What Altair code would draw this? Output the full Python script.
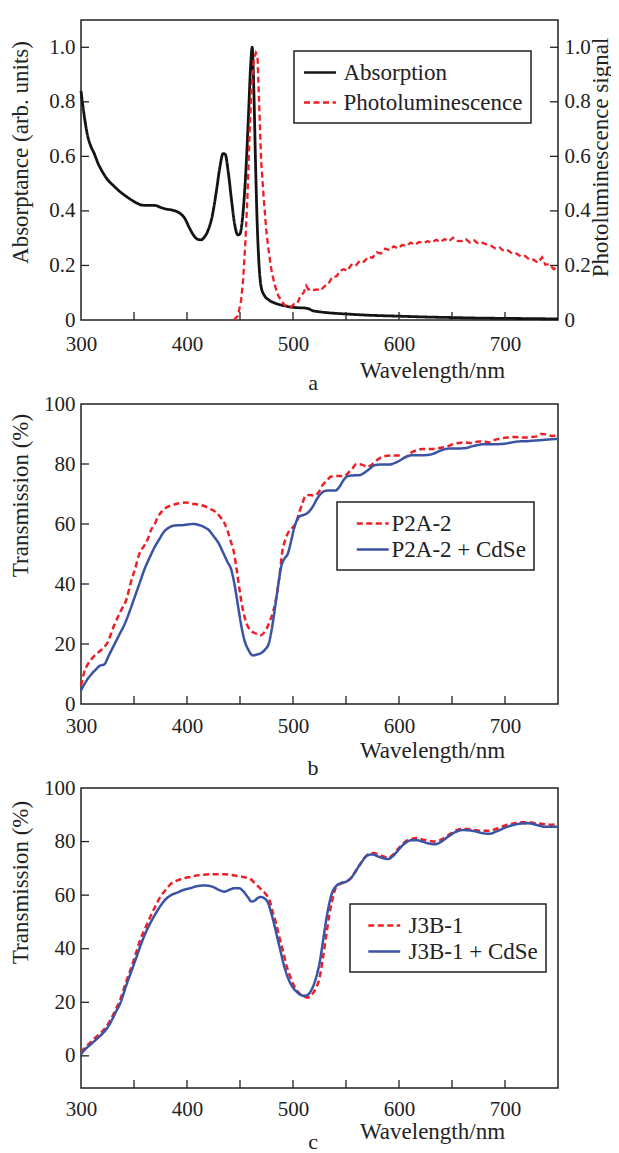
import altair as alt
import pandas as pd

FONT = "Liberation Serif"
TXT = "#222222"
RED = "#ec1f27"
BLUE = "#3a53a4"
BLACK = "#141414"

# ---------------- panel a ----------------
ABS_WL = [300, 303, 306, 309, 312.5, 316, 320, 325, 330, 337, 345, 352, 358, 365, 370, 375, 380, 387, 393,
          398, 402, 406, 410, 413, 416, 420, 424, 428, 431, 434, 436, 439, 442, 445, 448, 450, 452, 454,
          456, 458, 460, 461.5, 463, 464.5, 466, 468, 470, 473, 477, 483, 490, 497, 505, 511, 515, 518,
          525, 535, 550, 575, 600, 625, 650, 675, 700, 725, 750]
ABS_VAL = [0.84, 0.75, 0.68, 0.64, 0.61, 0.575, 0.545, 0.515, 0.495, 0.47, 0.447, 0.43, 0.421, 0.42, 0.42,
           0.413, 0.407, 0.402, 0.392, 0.372, 0.34, 0.312, 0.296, 0.294, 0.302, 0.33, 0.385, 0.48, 0.56,
           0.61, 0.608, 0.54, 0.44, 0.35, 0.312, 0.316, 0.36, 0.45, 0.58, 0.75, 0.93, 1.0, 0.85, 0.6, 0.38,
           0.2, 0.12, 0.09, 0.074, 0.062, 0.054, 0.048, 0.045, 0.044, 0.041, 0.035, 0.03, 0.026, 0.022,
           0.017, 0.014, 0.011, 0.009, 0.007, 0.006, 0.005, 0.004]
PL_WL = [444, 448, 451, 453, 455, 457, 459, 461, 463, 465, 466.5, 468, 470, 472.5, 475, 477.5, 480, 483,
         486, 489, 492, 495, 498, 501, 504, 507, 510, 512.5, 514.5, 517, 520, 523, 526, 530, 533, 537, 541,
         545, 548, 551, 555, 559, 563, 567, 571, 575, 579, 583, 587, 591, 595, 599, 603, 607, 611, 615, 619,
         623, 627, 631, 635, 639, 643, 647, 651, 655, 659, 663, 667, 671, 675, 679, 683, 687, 691, 695, 699,
         703, 707, 711, 715, 719, 723, 727, 731, 735, 738, 742, 746, 750]
PL_VAL = [0.0, 0.015, 0.07, 0.15, 0.28, 0.45, 0.68, 0.86, 0.95, 0.98, 0.97, 0.8, 0.58, 0.44, 0.32, 0.24,
          0.175, 0.125, 0.09, 0.07, 0.055, 0.05, 0.047, 0.058, 0.06, 0.088, 0.1, 0.125, 0.112, 0.116, 0.11,
          0.112, 0.108, 0.125, 0.13, 0.158, 0.16, 0.182, 0.186, 0.18, 0.202, 0.198, 0.218, 0.214, 0.232, 0.228,
          0.248, 0.244, 0.262, 0.256, 0.27, 0.262, 0.275, 0.272, 0.284, 0.276, 0.286, 0.282, 0.289, 0.284,
          0.294, 0.286, 0.297, 0.288, 0.302, 0.29, 0.289, 0.297, 0.284, 0.292, 0.279, 0.283, 0.276, 0.272, 0.262,
          0.266, 0.252, 0.255, 0.243, 0.243, 0.233, 0.235, 0.222, 0.221, 0.21, 0.23, 0.203, 0.204, 0.186, 0.197]
A_SERIES = ["Absorption", "Photoluminescence"]

# ---------------- panel b ----------------
B_RED_WL = [300, 303, 306, 310, 314, 319, 325, 331, 337.5, 343, 347, 351, 355, 360, 363, 366, 369, 372, 377,
            382, 388, 394, 399, 404, 410, 416, 422, 427, 431, 435, 438, 441, 444, 447, 450, 453, 456, 460,
            465, 469, 472, 475, 478, 481, 484, 487, 490, 493, 496, 500, 503, 506, 509, 512, 516, 520, 524,
            528, 532, 536, 542, 548, 552, 556, 560, 565, 570, 575, 580, 585, 592, 600, 605, 610, 616, 622,
            630, 638, 645, 650, 656, 662, 668, 675, 680, 685, 690, 696, 702, 710, 718, 725, 730, 734, 740,
            745, 750]
B_RED_VAL = [6.0, 10.5, 13, 15, 16.5, 18, 20.5, 26, 31, 35, 40.5, 45, 50, 53, 55, 58, 59.5, 62, 64.5, 65.8,
             66.5, 67, 67.2, 66.8, 66.5, 66, 65, 64, 62.5, 60.5, 58, 54.5, 51, 44.5, 37, 31, 27, 24.5, 23.5,
             22.8, 23.5, 25, 27.5, 30.5, 35, 42, 51, 55, 57.5, 59, 60.5, 64, 67, 69.5, 69.7, 69.5, 70.5, 73,
             74.5, 75.8, 76, 76, 77, 78.5, 80, 79.8, 79, 80, 81.5, 82.5, 82.8, 82.8, 82, 83.5, 84.5, 85, 85,
             85.3, 85.8, 86.5, 87, 87.2, 87, 87.5, 87.5, 87.2, 88, 88.5, 88.8, 89, 88.8, 89, 89.2, 90, 89.8,
             89.3, 90]
B_BLUE_WL = [300, 303, 306, 310, 314, 318, 322, 326, 331, 336, 341, 346, 350, 355, 360, 365, 369, 374, 378,
             383, 388, 395, 400, 406, 411, 416, 421, 425, 430, 434, 438, 442, 445, 448, 451, 454, 458, 462,
             466, 470, 474, 477, 480, 483, 486, 489, 492, 495, 498, 501, 504, 507, 510, 513, 516, 519, 522,
             526, 530, 535, 540, 544, 548, 552, 557, 563, 567, 572, 577, 582, 590, 595, 600, 606, 612, 620,
             627, 633, 638, 644, 650, 657, 663, 668, 674, 680, 690, 698, 705, 712, 720, 728, 735, 742, 750]
B_BLUE_VAL = [4.5, 6.5, 8.2, 10, 11.5, 12.8, 13.2, 16, 19.5, 23, 26.5, 31, 35, 40, 45, 49, 52, 55, 57.3,
              58.8, 59.5, 59.6, 59.8, 60, 59.7, 59, 57.8, 56, 53.5, 50.5, 47.5, 44.5, 39.5, 33, 26.5, 21.5,
              18, 16.2, 16.5, 17, 18.3, 20, 25, 32, 39.5, 46, 48.5, 50, 54, 58.5, 61.5, 62.7, 63, 63.5, 64.5,
              66, 68, 70, 71, 71.2, 71.2, 72.5, 74.8, 76, 76.2, 76.3, 77, 78.3, 79.6, 79.8, 79.8, 80.2, 81,
              82.3, 82.9, 82.9, 83, 83.5, 84.3, 85, 85.2, 85.2, 85.3, 85.8, 86.3, 86.6, 86.6, 86.7, 87.1,
              87.5, 87.6, 87.8, 88, 88.2, 88.4]
B_SERIES = ["P2A-2", "P2A-2 + CdSe"]

# ---------------- panel c ----------------
C_RED_WL = [300, 304, 309, 314, 319, 324, 328, 333, 337.5, 342, 347, 352, 356, 361, 366, 371, 375, 380, 385,
            391, 397, 403, 409, 415, 425, 435, 442, 450, 456, 460, 464, 469, 474, 478, 481, 484, 487, 491,
            494, 497, 500, 503, 507, 510.5, 513, 516, 519, 522, 525, 528, 531, 534, 537, 540.6, 545, 550,
            555, 560, 565, 570, 575, 580, 585, 590, 594, 598, 602, 607, 612, 617, 622, 628, 634, 640, 647,
            653, 660, 666, 672, 678, 685, 692, 700, 708, 715, 722, 730, 738, 744, 750]
C_RED_VAL = [1.2, 3.2, 5, 7, 8.7, 11, 13.5, 17.5, 21.5, 27, 32.5, 38.5, 43.5, 48, 52.5, 56.5, 59.5, 62,
             64.3, 65.5, 66.3, 66.8, 67.3, 67.6, 67.8, 67.8, 67.5, 67, 66.5, 66, 64.5, 62.5, 60.5, 58, 53.5,
             49.5, 44.5, 38.5, 33.5, 30, 27, 24.7, 23, 22.2, 21.8, 22, 23.5, 25.5, 29, 36, 44, 52, 58, 63,
             64.3, 65, 66.5, 69.5, 72.5, 75, 75.7, 75.3, 74.5, 74, 75, 76.8, 78.5, 80.3, 81, 81.3, 80.8, 80.3,
             80, 80.8, 82.5, 84, 84.8, 84.6, 84.3, 84, 84, 84.8, 86, 86.8, 87.2, 87.2, 86.8, 86.5, 86.3, 87.2]
C_BLUE_WL = [300, 304, 309, 314, 319, 324, 328, 333, 337.5, 342, 347, 352, 356, 361, 366, 371, 375, 380,
             385, 391, 397, 403, 409, 415, 420, 425, 430, 435, 440, 445, 449, 453, 457, 461, 464, 467, 470,
             473, 476, 479, 482, 485, 488, 491, 494, 497, 500, 504, 508, 511, 514, 517, 520, 523, 525, 528,
             531, 534, 537, 541, 545, 550, 555, 560, 565, 570, 575, 580, 585, 590, 594, 598, 602, 607, 612,
             617, 622, 628, 634, 640, 647, 653, 660, 666, 672, 678, 685, 692, 700, 708, 715, 722, 730, 738,
             744, 750]
C_BLUE_VAL = [0.6, 2.5, 4.2, 6, 7.8, 10, 12.5, 16.5, 20, 25.5, 31, 36.5, 41, 46, 50, 53.5, 56, 58.5, 60, 61,
              62, 62.6, 63.3, 63.6, 63.5, 63, 62, 61.3, 62, 62.6, 62.6, 61.5, 59.5, 57.6, 58, 59, 59.3, 58.8,
              57.5, 54, 49.5, 44.5, 39.5, 34.5, 30.5, 27.5, 25.5, 23.7, 22.6, 22.4, 22.8, 24.3, 27, 31, 34.5,
              42, 50, 56.5, 61, 63.5, 64.5, 65, 66.5, 69.5, 72.5, 74.8, 75.2, 74.5, 73.8, 73.5, 74.5, 76.2,
              78, 79.8, 80.5, 80.5, 80, 79.3, 79, 80, 82, 83.5, 84.3, 84.2, 83.8, 83.2, 82.9, 83.8, 85.2,
              86.2, 86.7, 86.8, 86.2, 85.5, 85.5, 85.6]
C_SERIES = ["J3B-1", "J3B-1 + CdSe"]

# ---------------- axes ticks ----------------
X_LABELS = [300, 400, 500, 600, 700]
X_TICKS = [350, 400, 450, 500, 550, 600, 650, 700]
A_Y_LABELS = [0, 0.2, 0.4, 0.6, 0.8, 1.0]
A_Y_TICKS = [0.2, 0.4, 0.6, 0.8, 1.0]
BC_Y_LABELS = [0, 20, 40, 60, 80, 100]
B_Y_TICKS = [20, 40, 60, 80]
C_Y_TICKS = [0, 20, 40, 60, 80]

W, H = 477, 300
TL = 8  # tick length (inward)
SYM = "M-1.33,0H1.33"  # long horizontal stroke for legend swatches

xs = alt.Scale(domain=[300, 750], nice=False, zero=False)


def make_x(label_pad, title_y):
    ax = alt.Axis(title="Wavelength/nm", values=X_LABELS, ticks=False, tickSize=0, domain=False, grid=False,
                  labelFlush=False, labelPadding=label_pad, labelBaseline="alphabetic", labelFontSize=21,
                  labelColor=TXT, labelFont=FONT, format="d", titleX=351, titleY=title_y, titleAlign="center",
                  titleBaseline="alphabetic", titleFontSize=23, titleFontWeight="normal", titleColor=TXT,
                  titleFont=FONT)
    return alt.X("wl:Q", scale=xs, axis=ax)


def yaxis(title, values, orient, tx, ty, expr):
    return alt.Axis(title=title, orient=orient, values=values, ticks=False, tickSize=0, domain=False,
                    grid=False, labelPadding=6, labelFontSize=21, labelColor=TXT, labelFont=FONT,
                    labelExpr=expr, titleAngle=270, titleX=tx, titleY=ty, titleAlign="center",
                    titleBaseline="alphabetic", titleFontSize=23, titleFontWeight="normal", titleColor=TXT,
                    titleFont=FONT)


def legend(lx, ly, soff, loff, rowpad):
    return alt.Legend(title=None, orient="none", legendX=lx, legendY=ly, padding=8, strokeColor=TXT,
                      fillColor="white", symbolType=SYM, symbolSize=576, symbolStrokeWidth=2.5,
                      symbolOffset=soff, labelOffset=loff, labelFontSize=23, labelFont=FONT,
                      labelColor=TXT, labelLimit=400, rowPadding=rowpad)


def ticks_layers(X, yscale, yax, yticks, right=False):
    rules = []
    rules.append(alt.Chart(pd.DataFrame({"wl": X_TICKS})).mark_rule(color=TXT, strokeWidth=1.3).encode(
        x=X, y=alt.value(H), y2=alt.value(H - TL)))
    rules.append(alt.Chart(pd.DataFrame({"val": yticks})).mark_rule(color=TXT, strokeWidth=1.3).encode(
        y=alt.Y("val:Q", scale=yscale, axis=yax), x=alt.value(0), x2=alt.value(TL)))
    if right:
        rules.append(alt.Chart(pd.DataFrame({"val": yticks})).mark_rule(color=TXT, strokeWidth=1.3).encode(
            y=alt.Y("val:Q", scale=yscale, axis=yax), x=alt.value(W - TL), x2=alt.value(W)))
    return rules


def caption(letter, cy):
    return alt.Chart(pd.DataFrame({"k": [0]})).mark_text(
        text=letter, font=FONT, fontSize=22, color=TXT, align="center", baseline="middle").encode(
        x=alt.value(232), y=alt.value(cy))


FMT_A = "datum.value == 0 ? '0' : format(datum.value, '.1f')"
FMT_BC = "format(datum.value, 'd')"

# ---- panel a ----
XA = make_x(30, 57)
ysa = alt.Scale(domain=[0, 1.1], nice=False, zero=False)
leg_a = legend(213, 31, 4.5, 10, 4)
col_a = alt.Color("series:N", scale=alt.Scale(domain=A_SERIES, range=[BLACK, RED]), legend=leg_a)
dash_a = alt.StrokeDash("series:N", scale=alt.Scale(domain=A_SERIES, range=[[1, 0], [6, 3.5]]), legend=leg_a)
abs_df = pd.DataFrame({"wl": ABS_WL, "val": ABS_VAL, "series": A_SERIES[0]})
pl_df = pd.DataFrame({"wl": PL_WL, "val": PL_VAL, "series": A_SERIES[1]})
abs_line = alt.Chart(abs_df).mark_line(strokeWidth=2.8, interpolate="monotone").encode(
    x=XA, y=alt.Y("val:Q", scale=ysa, axis=yaxis("Absorptance (arb. units)", A_Y_LABELS, "left", -54, 132, FMT_A)),
    color=col_a, strokeDash=dash_a)
pl_line = alt.Chart(pl_df).mark_line(strokeWidth=2.3).encode(
    x=XA, y=alt.Y("val:Q", scale=ysa, axis=yaxis("Photoluminescence signal", A_Y_LABELS, "right", 49, 137, FMT_A)),
    color=col_a, strokeDash=dash_a)
panel_a = alt.layer(abs_line, pl_line, *ticks_layers(XA, ysa, None, A_Y_TICKS, right=True),
                    caption("a", 363)).resolve_scale(y="independent").properties(width=W, height=H)


def trans_panel(red_wl, red_val, blue_wl, blue_val, series, ydom, yticks, lx, ly, soff, loff, rowpad, ty,
                letter, cy, lpad, tyx):
    X = make_x(lpad, tyx)
    df = pd.concat([
        pd.DataFrame({"wl": red_wl, "val": red_val, "series": series[0]}),
        pd.DataFrame({"wl": blue_wl, "val": blue_val, "series": series[1]}),
    ])
    ys = alt.Scale(domain=ydom, nice=False, zero=False)
    yax = yaxis("Transmission (%)", BC_Y_LABELS, "left", -54, ty, FMT_BC)
    leg = legend(lx, ly, soff, loff, rowpad)
    col = alt.Color("series:N", scale=alt.Scale(domain=series, range=[RED, BLUE]), legend=leg)
    dash = alt.StrokeDash("series:N", scale=alt.Scale(domain=series, range=[[6, 3.5], [1, 0]]), legend=leg)
    line = alt.Chart(df).mark_line(strokeWidth=2.5, interpolate="monotone").encode(
        x=X, y=alt.Y("val:Q", scale=ys, axis=yax), color=col, strokeDash=dash)
    return alt.layer(line, *ticks_layers(X, ys, yax, yticks), caption(letter, cy)).properties(width=W, height=H)


panel_b = trans_panel(B_RED_WL, B_RED_VAL, B_BLUE_WL, B_BLUE_VAL, B_SERIES, [0, 100], B_Y_TICKS,
                      256, 98, 14.25, 5.25, 0, 91, "b", 364, 28, 53)
panel_c = trans_panel(C_RED_WL, C_RED_VAL, C_BLUE_WL, C_BLUE_VAL, C_SERIES, [-12, 100], C_Y_TICKS,
                      269, 116, 12.75, 10.75, 0, 94, "c", 354, 27, 50)

chart = alt.vconcat(panel_a, panel_b, panel_c, spacing=84, bounds="flush").resolve_scale(
    color="independent", strokeDash="independent"
).resolve_legend(
    color="independent", strokeDash="independent"
).properties(
    padding={"left": 0, "top": 11, "right": -2, "bottom": 0}
).configure(font=FONT).configure_view(stroke=TXT, strokeWidth=1.5).configure_legend(strokeWidth=1.5)

chart.save("out.html", embed_options={"renderer": "svg", "actions": False})
